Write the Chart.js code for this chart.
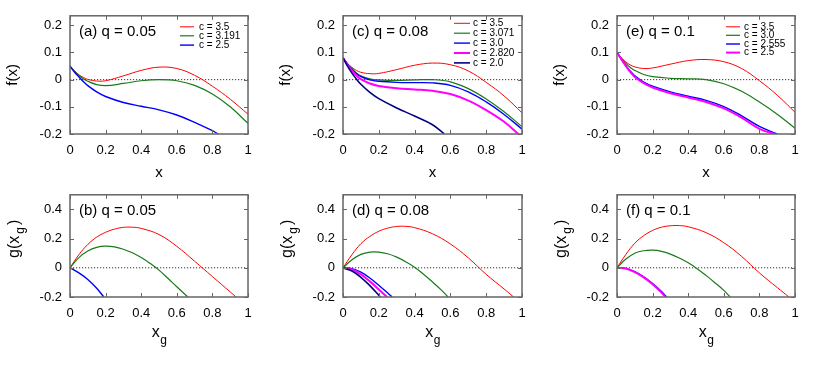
<!DOCTYPE html>
<html><head><meta charset="utf-8">
<script src="https://cdn.jsdelivr.net/npm/chart.js@4.4.1/dist/chart.umd.min.js"></script>
<style>
html,body{margin:0;padding:0;background:#fff;width:822px;height:365px;overflow:hidden;}
canvas{position:absolute;}
</style></head><body>
<script>
// ---- tick labels ----
const xTicks = [0, 0.2, 0.4, 0.6, 0.8, 1];
const fTicks = [-0.2, -0.1, 0, 0.1, 0.2];
const gTicks = [-0.2, 0, 0.2, 0.4];

// ---- panel (a) q = 0.05 ----
const aLabels = ['c = 3.5', 'c = 3.191', 'c = 2.5'];
const aX     = [0, 0.025, 0.05, 0.075, 0.1, 0.15, 0.2, 0.3, 0.4, 0.5, 0.6, 0.7, 0.8, 0.9, 1];
const aRed   = [0.05, 0.032, 0.018, 0.008, 0.001, -0.005, -0.004, 0.014, 0.034, 0.046, 0.041, 0.016, -0.024, -0.072, -0.127];
const aGreen = [0.05, 0.031, 0.015, 0.003, -0.006, -0.018, -0.022, -0.014, -0.004, 0, -0.004, -0.021, -0.053, -0.1, -0.161];
const aBlueX = [0, 0.025, 0.05, 0.075, 0.1, 0.15, 0.2, 0.3, 0.4, 0.5, 0.6, 0.7, 0.8, 0.832];
const aBlue  = [0.05, 0.028, 0.01, -0.007, -0.022, -0.045, -0.062, -0.084, -0.098, -0.111, -0.13, -0.157, -0.188, -0.2];

// ---- panel (c) q = 0.08 ----
const cLabels = ['c = 3.5', 'c = 3.071', 'c = 3.0', 'c = 2.820', 'c = 2.0'];
const cX     = [0, 0.025, 0.05, 0.075, 0.1, 0.15, 0.2, 0.3, 0.4, 0.5, 0.6, 0.7, 0.8, 0.9, 1];
const cRed   = [0.08, 0.06, 0.045, 0.034, 0.027, 0.022, 0.023, 0.037, 0.053, 0.061, 0.055, 0.032, -0.01, -0.06, -0.122];
const cGreen = [0.08, 0.058, 0.04, 0.025, 0.014, 0.003, -0.001, -0.003, -0.001, 0, -0.008, -0.033, -0.071, -0.118, -0.173];
const cBlue  = [0.08, 0.057, 0.038, 0.022, 0.011, -0.001, -0.006, -0.01, -0.011, -0.012, -0.021, -0.045, -0.082, -0.128, -0.182];
const cMagX  = [0, 0.025, 0.05, 0.075, 0.1, 0.15, 0.2, 0.3, 0.4, 0.5, 0.6, 0.7, 0.8, 0.9, 0.98];
const cMag   = [0.08, 0.055, 0.033, 0.015, 0.002, -0.014, -0.023, -0.032, -0.036, -0.041, -0.053, -0.077, -0.112, -0.155, -0.2];
const cNavyX = [0, 0.025, 0.05, 0.075, 0.1, 0.15, 0.2, 0.3, 0.4, 0.5, 0.566];
const cNavy  = [0.08, 0.05, 0.024, 0.002, -0.017, -0.047, -0.07, -0.104, -0.134, -0.166, -0.2];

// ---- panel (e) q = 0.1 ----
const eLabels = ['c = 3.5', 'c = 3.0', 'c = 2.555', 'c = 2.5'];
const eX     = [0, 0.025, 0.05, 0.075, 0.1, 0.15, 0.2, 0.3, 0.4, 0.5, 0.6, 0.7, 0.8, 0.9, 1];
const eRed   = [0.1, 0.08, 0.065, 0.054, 0.047, 0.041, 0.043, 0.057, 0.07, 0.074, 0.066, 0.041, -0.004, -0.057, -0.12];
const eGreen = [0.1, 0.078, 0.06, 0.045, 0.034, 0.019, 0.011, 0.005, 0.003, 0, -0.015, -0.043, -0.082, -0.127, -0.179];
const eBlueX = [0, 0.025, 0.05, 0.075, 0.1, 0.15, 0.2, 0.3, 0.4, 0.5, 0.6, 0.7, 0.8, 0.9];
const eBlue  = [0.1, 0.075, 0.052, 0.031, 0.014, -0.009, -0.024, -0.045, -0.061, -0.076, -0.099, -0.133, -0.172, -0.2];
const eMagX  = [0, 0.025, 0.05, 0.075, 0.1, 0.15, 0.2, 0.3, 0.4, 0.5, 0.6, 0.7, 0.8, 0.885];
const eMag   = [0.1, 0.074, 0.05, 0.028, 0.01, -0.013, -0.029, -0.05, -0.066, -0.082, -0.106, -0.14, -0.181, -0.2];

// ---- panel (b) q = 0.05 ----
const bRedX   = [0, 0.05, 0.1, 0.15, 0.2, 0.25, 0.3, 0.35, 0.4, 0.5, 0.6, 0.7, 0.8, 0.9, 0.933];
const bRed    = [0, 0.09, 0.16, 0.21, 0.243, 0.265, 0.277, 0.278, 0.27, 0.228, 0.147, 0.045, -0.06, -0.165, -0.2];
const bGreenX = [0, 0.05, 0.1, 0.15, 0.2, 0.25, 0.3, 0.35, 0.4, 0.45, 0.5, 0.55, 0.6, 0.662];
const bGreen  = [0, 0.07, 0.115, 0.14, 0.148, 0.143, 0.127, 0.103, 0.07, 0.03, -0.016, -0.072, -0.13, -0.2];
const bBlueX  = [0, 0.05, 0.1, 0.15, 0.19];
const bBlue   = [0, -0.035, -0.08, -0.14, -0.2];

// ---- panel (d) q = 0.08 ----
const dRedX   = [0, 0.05, 0.1, 0.15, 0.2, 0.25, 0.3, 0.35, 0.4, 0.5, 0.6, 0.7, 0.8, 0.9, 0.953];
const dRed    = [0, 0.09, 0.165, 0.215, 0.25, 0.272, 0.283, 0.284, 0.275, 0.233, 0.163, 0.068, -0.045, -0.145, -0.2];
const dGreenX = [0, 0.05, 0.1, 0.15, 0.2, 0.25, 0.3, 0.35, 0.4, 0.45, 0.5, 0.55, 0.587];
const dGreen  = [0, 0.055, 0.092, 0.108, 0.108, 0.096, 0.073, 0.042, 0.004, -0.044, -0.097, -0.153, -0.2];
const dBlueX  = [0, 0.05, 0.1, 0.15, 0.2, 0.25, 0.274];
const dBlue   = [0, -0.006, -0.03, -0.07, -0.12, -0.172, -0.2];
const dMagX   = [0, 0.05, 0.1, 0.15, 0.2, 0.246];
const dMag    = [0, -0.012, -0.045, -0.093, -0.148, -0.2];
const dNavyX  = [0, 0.05, 0.1, 0.15, 0.209];
const dNavy   = [0, -0.022, -0.065, -0.122, -0.2];

// ---- panel (f) q = 0.1 ----
const fRedX   = [0, 0.05, 0.1, 0.15, 0.2, 0.25, 0.3, 0.35, 0.4, 0.5, 0.6, 0.7, 0.8, 0.9, 0.966];
const fRed    = [0, 0.092, 0.168, 0.22, 0.256, 0.278, 0.288, 0.289, 0.281, 0.241, 0.172, 0.078, -0.035, -0.135, -0.2];
const fGreenX = [0, 0.05, 0.1, 0.15, 0.2, 0.25, 0.3, 0.35, 0.4, 0.45, 0.5, 0.55, 0.6, 0.636];
const fGreen  = [0, 0.06, 0.1, 0.117, 0.121, 0.113, 0.094, 0.067, 0.034, -0.006, -0.052, -0.102, -0.155, -0.2];
const fBlueX  = [0, 0.05, 0.1, 0.15, 0.2, 0.25, 0.278];
const fBlue   = [0, -0.004, -0.027, -0.062, -0.108, -0.163, -0.2];
const fMagX   = [0, 0.05, 0.1, 0.15, 0.2, 0.25, 0.272];
const fMag    = [0, -0.005, -0.03, -0.066, -0.113, -0.17, -0.2];

// ---- styles ----
const RED = '#ff0000', GREEN = '#1a7a1a', BLUE = '#0000ff', MAG = '#ff00ff', NAVY = '#000080';
const W = {[RED]: 1, [GREEN]: 1.2, [BLUE]: 1.4, [MAG]: 2, [NAVY]: 1.6};
const FONT = '"Liberation Sans", Arial, Helvetica, sans-serif';
Chart.defaults.font.family = FONT;

function S(label, color, xs, ys) { return {label, color, xs, ys}; }

const panels = [
  {L:70, T:15, R:248, B:134, top:true, ymax:0.235, title:'(a) q = 0.05',
   leg:{line:110, len:14, text:129, rows:[11, 20, 29.3]},
   series:[S(aLabels[0],RED,aX,aRed), S(aLabels[1],GREEN,aX,aGreen), S(aLabels[2],BLUE,aBlueX,aBlue)]},
  {L:343, T:15, R:522, B:134, top:true, ymax:0.235, title:'(c) q = 0.08',
   leg:{line:111, len:16, text:130, rows:[7.5, 17.4, 27.3, 37.2, 47.1]},
   series:[S(cLabels[0],RED,cX,cRed), S(cLabels[1],GREEN,cX,cGreen), S(cLabels[2],BLUE,cX,cBlue), S(cLabels[3],MAG,cMagX,cMag), S(cLabels[4],NAVY,cNavyX,cNavy)]},
  {L:617, T:15, R:795, B:134, top:true, ymax:0.235, title:'(e) q = 0.1',
   leg:{line:109, len:14, text:127, rows:[11, 19.5, 28.2, 36.8]},
   series:[S(eLabels[0],RED,eX,eRed), S(eLabels[1],GREEN,eX,eGreen), S(eLabels[2],BLUE,eBlueX,eBlue), S(eLabels[3],MAG,eMagX,eMag)]},
  {L:70, T:194, R:248, B:297, top:false, ymax:0.5, title:'(b) q = 0.05', leg:null,
   series:[S(aLabels[0],RED,bRedX,bRed), S(aLabels[1],GREEN,bGreenX,bGreen), S(aLabels[2],BLUE,bBlueX,bBlue)]},
  {L:343, T:194, R:522, B:297, top:false, ymax:0.5, title:'(d) q = 0.08', leg:null,
   series:[S(cLabels[0],RED,dRedX,dRed), S(cLabels[1],GREEN,dGreenX,dGreen), S(cLabels[2],BLUE,dBlueX,dBlue), S(cLabels[3],MAG,dMagX,dMag), S(cLabels[4],NAVY,dNavyX,dNavy)]},
  {L:617, T:194, R:795, B:297, top:false, ymax:0.5, title:'(f) q = 0.1', leg:null,
   series:[S(eLabels[0],RED,fRedX,fRed), S(eLabels[1],GREEN,fGreenX,fGreen), S(eLabels[2],BLUE,fBlueX,fBlue), S(eLabels[3],MAG,fMagX,fMag)]},
];

const PADL = 70, PADT = 15, PADR = 27, PADB = 60;
const FRAME = '#666666';

function fmt(v) {
  if (Math.abs(v) < 1e-9) return '0';
  if (Number.isInteger(v)) return String(v);
  return v.toFixed(1);
}

function makeDecor(p) {
  return {
    id: 'decor',
    afterDraw(chart) {
      const ctx = chart.ctx, a = chart.chartArea, xs = chart.scales.x, ys = chart.scales.y;
      ctx.save();
      // inward ticks (mirrored)
      ctx.strokeStyle = FRAME; ctx.lineWidth = 1;
      ctx.beginPath();
      for (const v of xTicks) {
        const px = Math.round(xs.getPixelForValue(v)) + 0.5;
        ctx.moveTo(px, a.bottom); ctx.lineTo(px, a.bottom - 4);
        ctx.moveTo(px, a.top); ctx.lineTo(px, a.top + 4);
      }
      for (const v of (p.top ? fTicks : gTicks)) {
        const py = Math.round(ys.getPixelForValue(v)) + 0.5;
        ctx.moveTo(a.left, py); ctx.lineTo(a.left + 4, py);
        ctx.moveTo(a.right, py); ctx.lineTo(a.right - 4, py);
      }
      ctx.stroke();
      // frame
      ctx.lineWidth = 1.5;
      ctx.strokeRect(a.left, a.top, a.right - a.left, a.bottom - a.top);
      // panel label
      ctx.fillStyle = '#000';
      ctx.font = '15px ' + FONT;
      ctx.textAlign = 'left'; ctx.textBaseline = 'middle';
      ctx.fillText(p.title, a.left + 9, a.top + 16);
      // legend
      if (p.leg) {
        ctx.font = '10px ' + FONT;
        chart.data.datasets.forEach((ds, i) => {
          if (ds.isZero) return;
          const y = a.top + p.leg.rows[i];
          ctx.strokeStyle = ds.borderColor; ctx.lineWidth = ds.borderWidth;
          ctx.beginPath(); ctx.moveTo(a.left + p.leg.line, y); ctx.lineTo(a.left + p.leg.line + p.leg.len, y); ctx.stroke();
          ctx.fillStyle = '#000';
          ctx.fillText(ds.label, a.left + p.leg.text, y);
        });
      }
      // axis titles
      ctx.fillStyle = '#000';
      const cx = (a.left + a.right) / 2, cy = (a.top + a.bottom) / 2;
      if (p.top) {
        ctx.font = '15px ' + FONT; ctx.textAlign = 'center'; ctx.textBaseline = 'alphabetic';
        ctx.fillText('x', cx, a.bottom + 42.5);
        ctx.save(); ctx.translate(a.left - 57, cy); ctx.rotate(-Math.PI / 2);
        ctx.textBaseline = 'middle'; ctx.fillText('f(x)', 0, 0); ctx.restore();
      } else {
        const main = '16px ' + FONT, sub = '12px ' + FONT;
        // x_g
        ctx.textAlign = 'left'; ctx.textBaseline = 'alphabetic';
        ctx.font = main; const wx = ctx.measureText('x').width;
        ctx.font = sub; const wg = ctx.measureText('g').width;
        let x0 = cx - (wx + wg) / 2;
        ctx.font = main; ctx.fillText('x', x0, a.bottom + 39.5);
        ctx.font = sub; ctx.fillText('g', x0 + wx + 0.5, a.bottom + 46.5);
        // g(x_g) rotated
        ctx.save(); ctx.translate(a.left - 57, cy - 7); ctx.rotate(-Math.PI / 2);
        const gap = 2;
        ctx.font = main; const w1 = ctx.measureText('g(x').width, w3 = ctx.measureText(')').width;
        ctx.font = sub; const w2 = ctx.measureText('g').width;
        let s = -(w1 + w2 + w3 + 2 * gap) / 2;
        ctx.font = main; ctx.fillText('g(x', s, 5.5);
        ctx.font = sub; ctx.fillText('g', s + w1 + gap, 10.5);
        ctx.font = main; ctx.fillText(')', s + w1 + w2 + 2 * gap, 5.5);
        ctx.restore();
      }
      ctx.restore();
    }
  };
}

panels.forEach(p => {
  const cv = document.createElement('canvas');
  const w = p.R - p.L + PADL + PADR, h = p.B - p.T + PADT + PADB;
  cv.width = w; cv.height = h;
  cv.style.left = (p.L - PADL) + 'px'; cv.style.top = (p.T - PADT) + 'px';
  cv.style.width = w + 'px'; cv.style.height = h + 'px';
  document.body.appendChild(cv);
  const n = p.series.length;
  const datasets = p.series.map((s, i) => ({
    label: s.label,
    data: s.xs.map((x, k) => ({x, y: s.ys[k]})),
    borderColor: s.color, backgroundColor: s.color,
    borderWidth: W[s.color], pointRadius: 0, fill: false,
    tension: 0.4, order: n - i
  }));
  datasets.push({
    label: '', isZero: true, data: [{x: 0, y: 0}, {x: 1, y: 0}],
    borderColor: '#333', borderWidth: 1, borderDash: [1.2, 1.8], pointRadius: 0, order: n + 5
  });
  new Chart(cv, {
    type: 'line',
    data: {datasets},
    plugins: [makeDecor(p)],
    options: {
      responsive: false, animation: false, devicePixelRatio: 1,
      layout: {padding: {left: 0, top: PADT, right: PADR, bottom: 0}},
      plugins: {legend: {display: false}, tooltip: {enabled: false}},
      events: [],
      scales: {
        x: {
          type: 'linear', min: 0, max: 1,
          afterBuildTicks: s => { s.ticks = xTicks.map(v => ({value: v})); },
          afterFit: s => { s.height = PADB; },
          grid: {display: false, drawTicks: false}, border: {display: false},
          ticks: {padding: 9, color: '#000', font: {size: 13}, maxRotation: 0, autoSkip: false, callback: v => fmt(v)}
        },
        y: {
          type: 'linear', min: -0.2, max: p.ymax,
          afterBuildTicks: s => { s.ticks = (p.top ? fTicks : gTicks).map(v => ({value: v})); },
          afterFit: s => { s.width = PADL; },
          grid: {display: false, drawTicks: false}, border: {display: false},
          ticks: {padding: 8, color: '#000', font: {size: 13}, autoSkip: false, callback: v => fmt(v)}
        }
      }
    }
  });
});
</script>
</body></html>
